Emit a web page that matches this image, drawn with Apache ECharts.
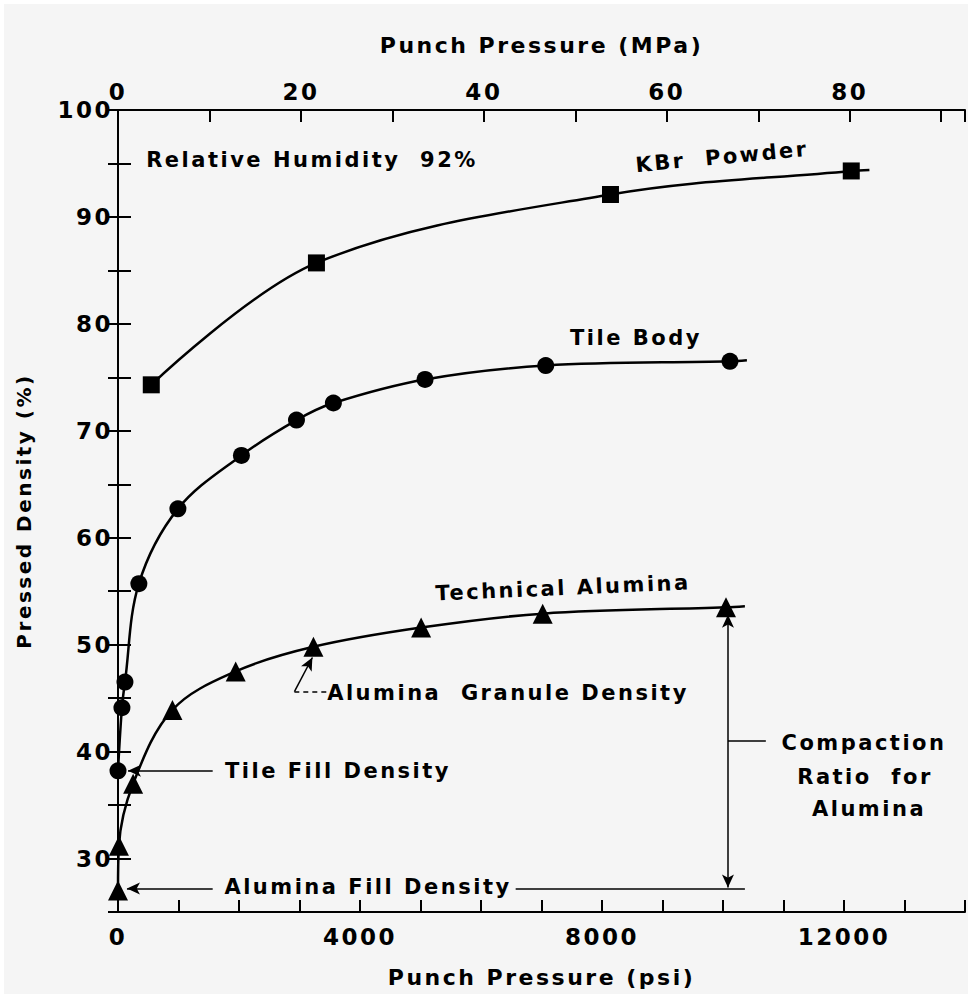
<!DOCTYPE html>
<html>
<head>
    <title>Pressed Density vs Punch Pressure</title>
    <meta charset="UTF-8">
    <script src="https://cdn.jsdelivr.net/npm/echarts@6/dist/echarts.min.js"></script>
    <style>
        html, body { margin: 0; padding: 0; background: #fff; }
        #paper { position: absolute; left: 4px; top: 4px; width: 964px; height: 990px; background: #f5f5f5; }
        #chart { position: absolute; left: 0; top: 0; width: 968px; height: 994px; }
        #chart text { letter-spacing: 2.5px; }
    </style>
</head>
<body>
<div id="paper"></div>
<div id="chart"></div>

<script>
    // x = punch pressure (psi), y = pressed density (%)
    var kbrPsi = [550, 3280, 8140, 12120];
    var kbrDensity = [74.3, 85.7, 92.1, 94.3];
    var kbrEnd = [12420, 94.4];

    var tilePsi = [0, 65, 115, 345, 990, 2040, 2950, 3560, 5075, 7070, 10115];
    var tileDensity = [38.2, 44.1, 46.5, 55.7, 62.7, 67.7, 71.0, 72.6, 74.8, 76.1, 76.5];
    var tileEnd = [10395, 76.6];

    var aluminaPsi = [0, 15, 250, 900, 1945, 3230, 5010, 7020, 10050];
    var aluminaDensity = [27.0, 31.2, 37.0, 43.9, 47.5, 49.8, 51.6, 52.9, 53.5];
    var aluminaEnd = [10362, 53.6];

    // axis ranges
    var psiRange = [0, 14000];
    var mpaRange = [0, 92.6];
    var densityRange = [25, 100];

    // leader lines / arrows, in data coords [psi, %]
    var granuleDash = [[3443, 45.6], [2916, 45.6]];
    var granuleArrow = [[2916, 45.6], [3213, 48.8]];
    var tileFillArrow = [[1565, 38.2], [165, 38.2]];
    var aluminaFillArrow = [[1565, 27.2], [148, 27.2]];
    var aluminaFillLine = [[6573, 27.2], [10362, 27.2]];
    var compactionArrow = [[10082, 52.8], [10082, 27.3]];
    var compactionTick = [[10082, 41.0], [10708, 41.0]];

    var FONT = '"DejaVu Sans", sans-serif';
    var NB = '\u00a0';

    function pairs(xs, ys, end){
        var d = xs.map(function(x, i){ return [x, ys[i]]; });
        if(end){ d.push({value: end, symbol: 'none'}); }
        return d;
    }

    function seg(p, startSym, endSym, dashed){
        var a = {coord: p[0], symbol: startSym};
        var b = {coord: p[1], symbol: endSym};
        if(dashed){ a.lineStyle = {type: [5, 4]}; }
        return [a, b];
    }

    function note(text, x, y, deg, size){
        return {
            type: 'text',
            x: x, y: y,
            rotation: (deg || 0) * Math.PI / 180,
            style: {
                text: text,
                fill: '#000',
                font: 'bold ' + (size || 21) + 'px ' + FONT,
                align: 'center', textAlign: 'center',
                verticalAlign: 'middle', textVerticalAlign: 'middle'
            }
        };
    }

    var axisLabelStyle = {
        color: '#000',
        fontFamily: FONT,
        fontWeight: 'bold',
        fontSize: 23
    };
    var titleStyle = Object.assign({}, axisLabelStyle, {fontSize: 22});
    var axisLineStyle = {lineStyle: {color: '#000', width: 2}};

    var option = {
        animation: false,
        grid: {left: 118, right: 3, top: 110, bottom: 82},
        xAxis: [
            {
                type: 'value', position: 'bottom',
                min: psiRange[0], max: psiRange[1], interval: 1000,
                name: 'Punch' + NB + 'Pressure' + NB + '(psi)',
                nameLocation: 'middle', nameGap: 54,
                nameTextStyle: titleStyle,
                axisLine: axisLineStyle,
                axisTick: {inside: true, length: 12, lineStyle: {color: '#000', width: 2}},
                axisLabel: Object.assign({margin: 13, formatter: function(v){ return v % 4000 === 0 ? String(v) : ''; }}, axisLabelStyle),
                splitLine: {show: false}
            },
            {
                type: 'value', position: 'top',
                min: mpaRange[0], max: mpaRange[1], interval: 10,
                name: 'Punch' + NB + 'Pressure' + NB + '(MPa)',
                nameLocation: 'middle', nameGap: 54,
                nameTextStyle: titleStyle,
                axisLine: axisLineStyle,
                axisTick: {inside: true, length: 12, lineStyle: {color: '#000', width: 2}},
                axisLabel: Object.assign({margin: 7, formatter: function(v){ return v % 20 === 0 ? String(v) : ''; }}, axisLabelStyle),
                splitLine: {show: false}
            }
        ],
        yAxis: [
            {
                type: 'value', position: 'left',
                min: densityRange[0], max: densityRange[1], interval: 5,
                name: 'Pressed' + NB + 'Density' + NB + '(%)',
                nameLocation: 'middle', nameGap: 84, nameRotate: 90,
                nameTextStyle: Object.assign({}, axisLabelStyle, {fontSize: 20}),
                axisLine: axisLineStyle,
                axisTick: {inside: true, length: 13, lineStyle: {color: '#000', width: 2}},
                axisLabel: Object.assign({margin: 5, formatter: function(v){ return v % 10 === 0 ? String(v) : ''; }}, axisLabelStyle),
                splitLine: {show: false}
            },
            {
                type: 'value', position: 'right',
                min: densityRange[0], max: densityRange[1], interval: 5,
                axisLine: axisLineStyle,
                axisTick: {inside: true, length: 10, lineStyle: {color: '#000', width: 2}},
                axisLabel: {show: false},
                splitLine: {show: false}
            }
        ],
        series: [
            {
                name: 'KBr Powder', type: 'line',
                data: pairs(kbrPsi, kbrDensity, kbrEnd),
                smooth: 0.35,
                symbol: 'rect', symbolSize: 17, showAllSymbol: true,
                itemStyle: {color: '#000'},
                lineStyle: {color: '#000', width: 2.5}
            },
            {
                name: 'Tile Body', type: 'line',
                data: pairs(tilePsi, tileDensity, tileEnd),
                smooth: 0.35,
                symbol: 'circle', symbolSize: 17, showAllSymbol: true,
                itemStyle: {color: '#000'},
                lineStyle: {color: '#000', width: 2.5}
            },
            {
                name: 'Technical Alumina', type: 'line',
                data: pairs(aluminaPsi, aluminaDensity, aluminaEnd),
                smooth: 0.35,
                symbol: 'triangle', symbolSize: 20, showAllSymbol: true,
                itemStyle: {color: '#000'},
                lineStyle: {color: '#000', width: 2.5},
                markLine: {
                    silent: true,
                    symbolSize: [9, 13],
                    label: {show: false},
                    lineStyle: {color: '#000', width: 1.5, type: 'solid'},
                    data: [
                        seg(granuleDash, 'none', 'none', true),
                        seg(granuleArrow, 'none', 'arrow'),
                        seg(tileFillArrow, 'none', 'arrow'),
                        seg(aluminaFillArrow, 'none', 'arrow'),
                        seg(aluminaFillLine, 'none', 'none'),
                        seg(compactionArrow, 'arrow', 'arrow'),
                        seg(compactionTick, 'none', 'none')
                    ]
                }
            }
        ],
        graphic: [
            note('Relative Humidity' + NB + NB + '92%', 312, 160),
            note('KBr' + NB + NB + 'Powder', 722, 157, 5.4),
            note('Tile Body', 636, 338),
            note('Technical Alumina', 563, 588, 2.5),
            note('Alumina' + NB + ' Granule Density', 508, 693),
            note('Tile Fill Density', 338, 771),
            note('Alumina Fill Density', 368, 887),
            note('Compaction', 864, 743),
            note('Ratio' + NB + ' for', 865, 777),
            note('Alumina', 869, 809)
        ]
    };

    var myChart = echarts.init(document.getElementById('chart'), null, {renderer: 'svg'});
    myChart.setOption(option);
</script>
</body>
</html>
